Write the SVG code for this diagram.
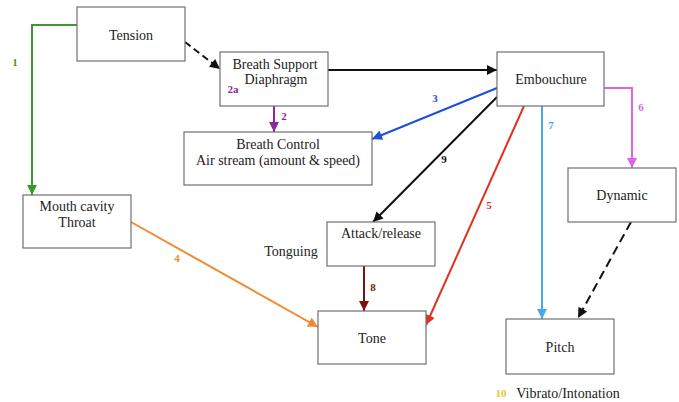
<svg xmlns="http://www.w3.org/2000/svg" width="679" height="402" viewBox="0 0 679 402">
<style>
.box{fill:#fff;stroke:#707070;stroke-width:1.2}
.t{font-family:"Liberation Serif",serif;font-size:14px;fill:#222;text-anchor:middle}
.n{font-family:"Liberation Serif",serif;font-size:11px;font-weight:bold;text-anchor:middle}
.c{fill:none;stroke-width:2}
</style>
<defs>
<marker id="aK" viewBox="0 0 10 10" refX="10" refY="5" markerUnits="userSpaceOnUse" markerWidth="11" markerHeight="10" orient="auto"><path d="M0,0L10,5L0,10z" fill="#111"/></marker>
<marker id="aG" viewBox="0 0 10 10" refX="10" refY="5" markerUnits="userSpaceOnUse" markerWidth="11" markerHeight="10" orient="auto"><path d="M0,0L10,5L0,10z" fill="#3c9a2c"/></marker>
<marker id="aP" viewBox="0 0 10 10" refX="10" refY="5" markerUnits="userSpaceOnUse" markerWidth="11" markerHeight="10" orient="auto"><path d="M0,0L10,5L0,10z" fill="#8b2a9c"/></marker>
<marker id="aB" viewBox="0 0 10 10" refX="10" refY="5" markerUnits="userSpaceOnUse" markerWidth="11" markerHeight="10" orient="auto"><path d="M0,0L10,5L0,10z" fill="#1c4fdc"/></marker>
<marker id="aR" viewBox="0 0 10 10" refX="10" refY="5" markerUnits="userSpaceOnUse" markerWidth="11" markerHeight="10" orient="auto"><path d="M0,0L10,5L0,10z" fill="#e0321e"/></marker>
<marker id="aL" viewBox="0 0 10 10" refX="10" refY="5" markerUnits="userSpaceOnUse" markerWidth="11" markerHeight="10" orient="auto"><path d="M0,0L10,5L0,10z" fill="#46a9e8"/></marker>
<marker id="aM" viewBox="0 0 10 10" refX="10" refY="5" markerUnits="userSpaceOnUse" markerWidth="11" markerHeight="10" orient="auto"><path d="M0,0L10,5L0,10z" fill="#e062e8"/></marker>
<marker id="aO" viewBox="0 0 10 10" refX="10" refY="5" markerUnits="userSpaceOnUse" markerWidth="11" markerHeight="10" orient="auto"><path d="M0,0L10,5L0,10z" fill="#f08a30"/></marker>
<marker id="aD" viewBox="0 0 10 10" refX="10" refY="5" markerUnits="userSpaceOnUse" markerWidth="11" markerHeight="10" orient="auto"><path d="M0,0L10,5L0,10z" fill="#7a1212"/></marker>
</defs>
<rect width="679" height="402" fill="#fff"/>
<g id="connectors">
<path class="c" d="M77,25H32V195" stroke="#3c9a2c" marker-end="url(#aG)"/>
<path class="c" d="M185,42L220,69" stroke="#111" stroke-dasharray="7,4" marker-end="url(#aK)"/>
<path class="c" d="M274,106V132" stroke="#8b2a9c" marker-end="url(#aP)"/>
<path class="c" d="M328,70H497" stroke="#111" marker-end="url(#aK)"/>
<path class="c" d="M497,88L372,139" stroke="#1c4fdc" marker-end="url(#aB)"/>
<path class="c" d="M497,97L373,222" stroke="#111" marker-end="url(#aK)"/>
<path class="c" d="M524,106L426,325" stroke="#e0321e" marker-end="url(#aR)"/>
<path class="c" d="M542,106V319" stroke="#46a9e8" marker-end="url(#aL)"/>
<path class="c" d="M604,88H632V168" stroke="#e062e8" marker-end="url(#aM)"/>
<path class="c" d="M631,222L578,318" stroke="#111" stroke-dasharray="9,5" marker-end="url(#aK)"/>
<path class="c" d="M131,222L318,327" stroke="#f08a30" marker-end="url(#aO)"/>
<path class="c" d="M364,266V311" stroke="#7a1212" marker-end="url(#aD)"/>
<text class="n" x="15" y="66" fill="#3c9a2c">1</text>
<text class="n" x="284" y="120" fill="#8b2a9c">2</text>
<text class="n" x="435" y="102" fill="#1c4fdc">3</text>
<text class="n" x="177" y="262" fill="#f08a30">4</text>
<text class="n" x="489" y="209" fill="#e0321e">5</text>
<text class="n" x="641" y="111" fill="#e062e8">6</text>
<text class="n" x="551" y="129" fill="#46a9e8">7</text>
<text class="n" x="373" y="291" fill="#7a1212">8</text>
<text class="n" x="444" y="163" fill="#111">9</text>
</g>
<g id="tension"><rect class="box" x="77" y="7" width="108" height="54"/><text class="t" x="131" y="40">Tension</text></g>
<g id="breath-support"><rect class="box" x="220" y="52" width="108" height="54"/><text class="t" x="275" y="69">Breath Support</text><text class="t" x="276" y="84">Diaphragm</text><text class="n" x="233" y="93" fill="#8b2a9c">2a</text></g>
<g id="breath-control"><rect class="box" x="184" y="132" width="188" height="53"/><text class="t" x="278" y="149">Breath Control</text><text class="t" x="278" y="165">Air stream (amount &amp; speed)</text></g>
<g id="embouchure"><rect class="box" x="497" y="52" width="107" height="54"/><text class="t" x="551" y="84">Embouchure</text></g>
<g id="mouth-cavity"><rect class="box" x="23" y="195" width="108" height="53"/><text class="t" x="77" y="211">Mouth cavity</text><text class="t" x="77" y="227">Throat</text></g>
<g id="dynamic"><rect class="box" x="568" y="168" width="108" height="54"/><text class="t" x="622" y="200">Dynamic</text></g>
<g id="attack-release"><rect class="box" x="327" y="222" width="108" height="44"/><text class="t" x="381" y="238">Attack/release</text></g>
<text class="t" x="291" y="256">Tonguing</text>
<g id="tone"><rect class="box" x="318" y="311" width="108" height="53"/><text class="t" x="372" y="343">Tone</text></g>
<g id="pitch"><rect class="box" x="506" y="319" width="108" height="55"/><text class="t" x="560" y="352">Pitch</text></g>
<text class="n" x="501" y="397" fill="#f0c232">10</text>
<text class="t" x="568" y="398">Vibrato/Intonation</text>
</svg>
